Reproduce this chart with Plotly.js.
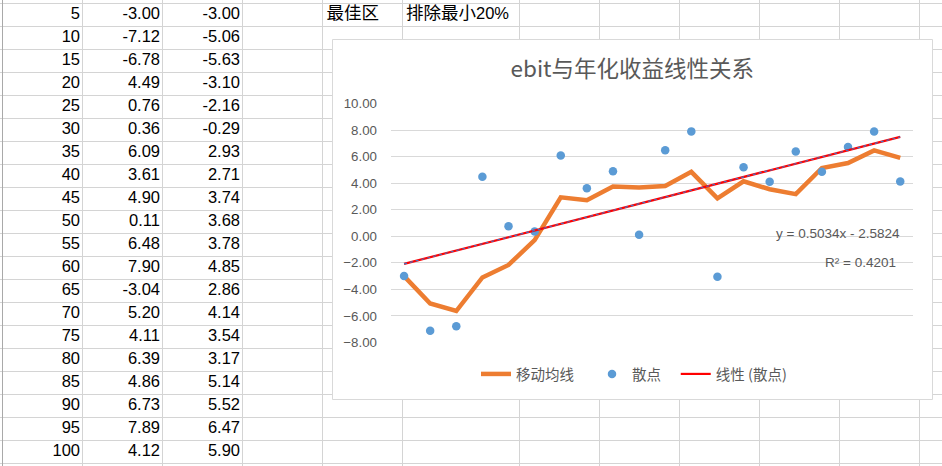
<!DOCTYPE html>
<html><head><meta charset="utf-8">
<script src="https://cdn.plot.ly/plotly-3.0.1.min.js"></script>
<style>html,body{margin:0;padding:0;background:#fff;overflow:hidden}</style>
</head><body><div id="chart" style="width:942px;height:466px"></div>
<script>
// ---- data ----
const categories = ['5','10','15','20','25','30','35','40','45','50','55','60','65','70','75','80','85','90','95','100'];
const scatterValues = [-3.00,-7.12,-6.78,4.49,0.76,0.36,6.09,3.61,4.90,0.11,6.48,7.90,-3.04,5.20,4.11,6.39,4.86,6.73,7.89,4.12];
const movingAvg = [-3.00,-5.06,-5.63,-3.10,-2.16,-0.29,2.93,2.71,3.74,3.68,3.78,4.85,2.86,4.14,3.54,3.17,5.14,5.52,6.47,5.90];
const trendSlope = 0.5034;
const trendIntercept = -2.5824;
const yTickVals = [-8,-6,-4,-2,0,2,4,6,8,10];
const titleText = 'ebit与年化收益线性关系';
const seriesNames = ['移动均线','散点','线性 (散点)'];
const eqText = 'y = 0.5034x - 2.5824';
const r2Text = 'R² = 0.4201';
const headerCells = ['最佳区','排除最小<span style="font-family:\'Liberation Sans Narrow\',\'Liberation Sans\';font-size:16.5px">20%</span>'];

// ---- geometry helpers ----
const W = 942, H = 466;
const px = x => x / W;
const py = y => 1 - y / H;
const rowY = i => 15 + 23 * i;

const cjk = '"Noto Sans CJK SC", "Liberation Sans", sans-serif';
const lat = '"Liberation Sans", "Noto Sans CJK SC", sans-serif';
const grey = '#595959';
const NB = '\u00a0';

const n = categories.length;
const trendX = [categories[0], categories[n - 1]];
const trendY = [trendSlope * 1 + trendIntercept, trendSlope * n + trendIntercept];

const traces = [
  {type:'scatter', mode:'lines', x:categories, y:movingAvg, name:seriesNames[0] + NB.repeat(4),
   line:{color:'#ED7D31', width:4.5}, hoverinfo:'skip'},
  {type:'scatter', mode:'markers', x:categories, y:scatterValues, name:seriesNames[1] + NB.repeat(3),
   marker:{color:'#5B9BD5', size:8.5}, hoverinfo:'skip'},
  {type:'scatter', mode:'lines', x:trendX, y:trendY, name:seriesNames[2],
   line:{color:'#FF0000', width:2.2}, hoverinfo:'skip'},
  {type:'scatter', mode:'lines', x:trendX, y:trendY, showlegend:false,
   line:{color:'#4472C4', width:1.1, dash:'dot'}, hoverinfo:'skip'}
];

// spreadsheet text on pixel axes
function colText(vals, xr, fmt) {
  return {type:'scatter', mode:'text', xaxis:'x2', yaxis:'y2', showlegend:false, hoverinfo:'skip',
    x: vals.map(() => xr), y: vals.map((_, i) => rowY(i)),
    text: vals.map(fmt), textposition:'middle left', cliponaxis:false,
    textfont:{family:lat, size:16.5, color:'#000'}};
}
traces.push(colText(categories, 80, v => v));
traces.push(colText(scatterValues, 160, v => v.toFixed(2)));
traces.push(colText(movingAvg, 240, v => v.toFixed(2)));
traces.push({type:'scatter', mode:'text', xaxis:'x2', yaxis:'y2', showlegend:false, hoverinfo:'skip',
  x:[326.5, 406], y:[rowY(0), rowY(0)], text:headerCells, textposition:'middle right', cliponaxis:false,
  textfont:{family:cjk, size:17.5, color:'#000'}});

// grid shapes
const shapes = [];
const colLines = [82.5,162.5,242.5,322.5,402.5,519.5,599.5,679.5,759.5,839.5,919.5];
for (let k = 0; k <= 20; k++) {
  const y = 3.5 + 23 * k;
  shapes.push({type:'line', xref:'paper', yref:'paper', x0:0, x1:1, y0:py(y), y1:py(y),
    line:{color:'#d4d4d4', width:1}, layer:'below'});
}
colLines.forEach(x => shapes.push({type:'line', xref:'paper', yref:'paper', x0:px(x), x1:px(x), y0:0, y1:1,
  line:{color:'#d4d4d4', width:1}, layer:'below'}));
shapes.push({type:'line', xref:'paper', yref:'paper', x0:px(2.5), x1:px(2.5), y0:0, y1:1,
  line:{color:'#a9a9a9', width:1}, layer:'below'});
shapes.push({type:'rect', xref:'paper', yref:'paper', x0:px(332.5), x1:px(932.5), y0:py(399.5), y1:py(39.5),
  fillcolor:'#ffffff', line:{color:'#d9d9d9', width:1}, layer:'below'});

const layout = {
  width:W, height:H, margin:{l:0,r:0,t:0,b:0},
  paper_bgcolor:'#ffffff', plot_bgcolor:'rgba(0,0,0,0)',
  title:{text:titleText, x:px(632.3), xanchor:'center', y:py(69.5), yanchor:'middle',
    font:{family:cjk, size:22.5, color:grey}},
  xaxis:{type:'category', domain:[px(391), px(913.3)], range:[-0.5, n - 0.5],
    showgrid:false, showticklabels:false, zeroline:false, showline:false, ticks:'', fixedrange:true},
  yaxis:{domain:[py(342.5), py(103.5)], range:[-8,10], tickvals:yTickVals, tickformat:'.2f',
    showgrid:true, gridcolor:'#d9d9d9', gridwidth:1, zeroline:false, showline:false, ticks:'',
    ticklabelstandoff:13, tickfont:{family:lat, size:13.3, color:grey}, fixedrange:true},
  xaxis2:{domain:[0,1], range:[0,W], anchor:'y2', visible:false, fixedrange:true},
  yaxis2:{domain:[0,1], range:[H,0], anchor:'x2', visible:false, fixedrange:true},
  showlegend:true,
  legend:{orientation:'h', x:px(476), xanchor:'left', y:py(374), yanchor:'middle',
    font:{family:cjk, size:14.5, color:grey}, bgcolor:'rgba(0,0,0,0)', traceorder:'normal'},
  annotations:[
    {text:eqText, xref:'paper', yref:'paper', x:px(901.5), y:py(233.5), xanchor:'right', yanchor:'middle',
     showarrow:false, font:{family:lat, size:13.5, color:grey}},
    {text:r2Text, xref:'paper', yref:'paper', x:px(898), y:py(262), xanchor:'right', yanchor:'middle',
     showarrow:false, font:{family:lat, size:13.5, color:grey}}
  ],
  shapes:shapes
};

Plotly.newPlot('chart', traces, layout, {staticPlot:true, displayModeBar:false});
</script>
</body></html>
